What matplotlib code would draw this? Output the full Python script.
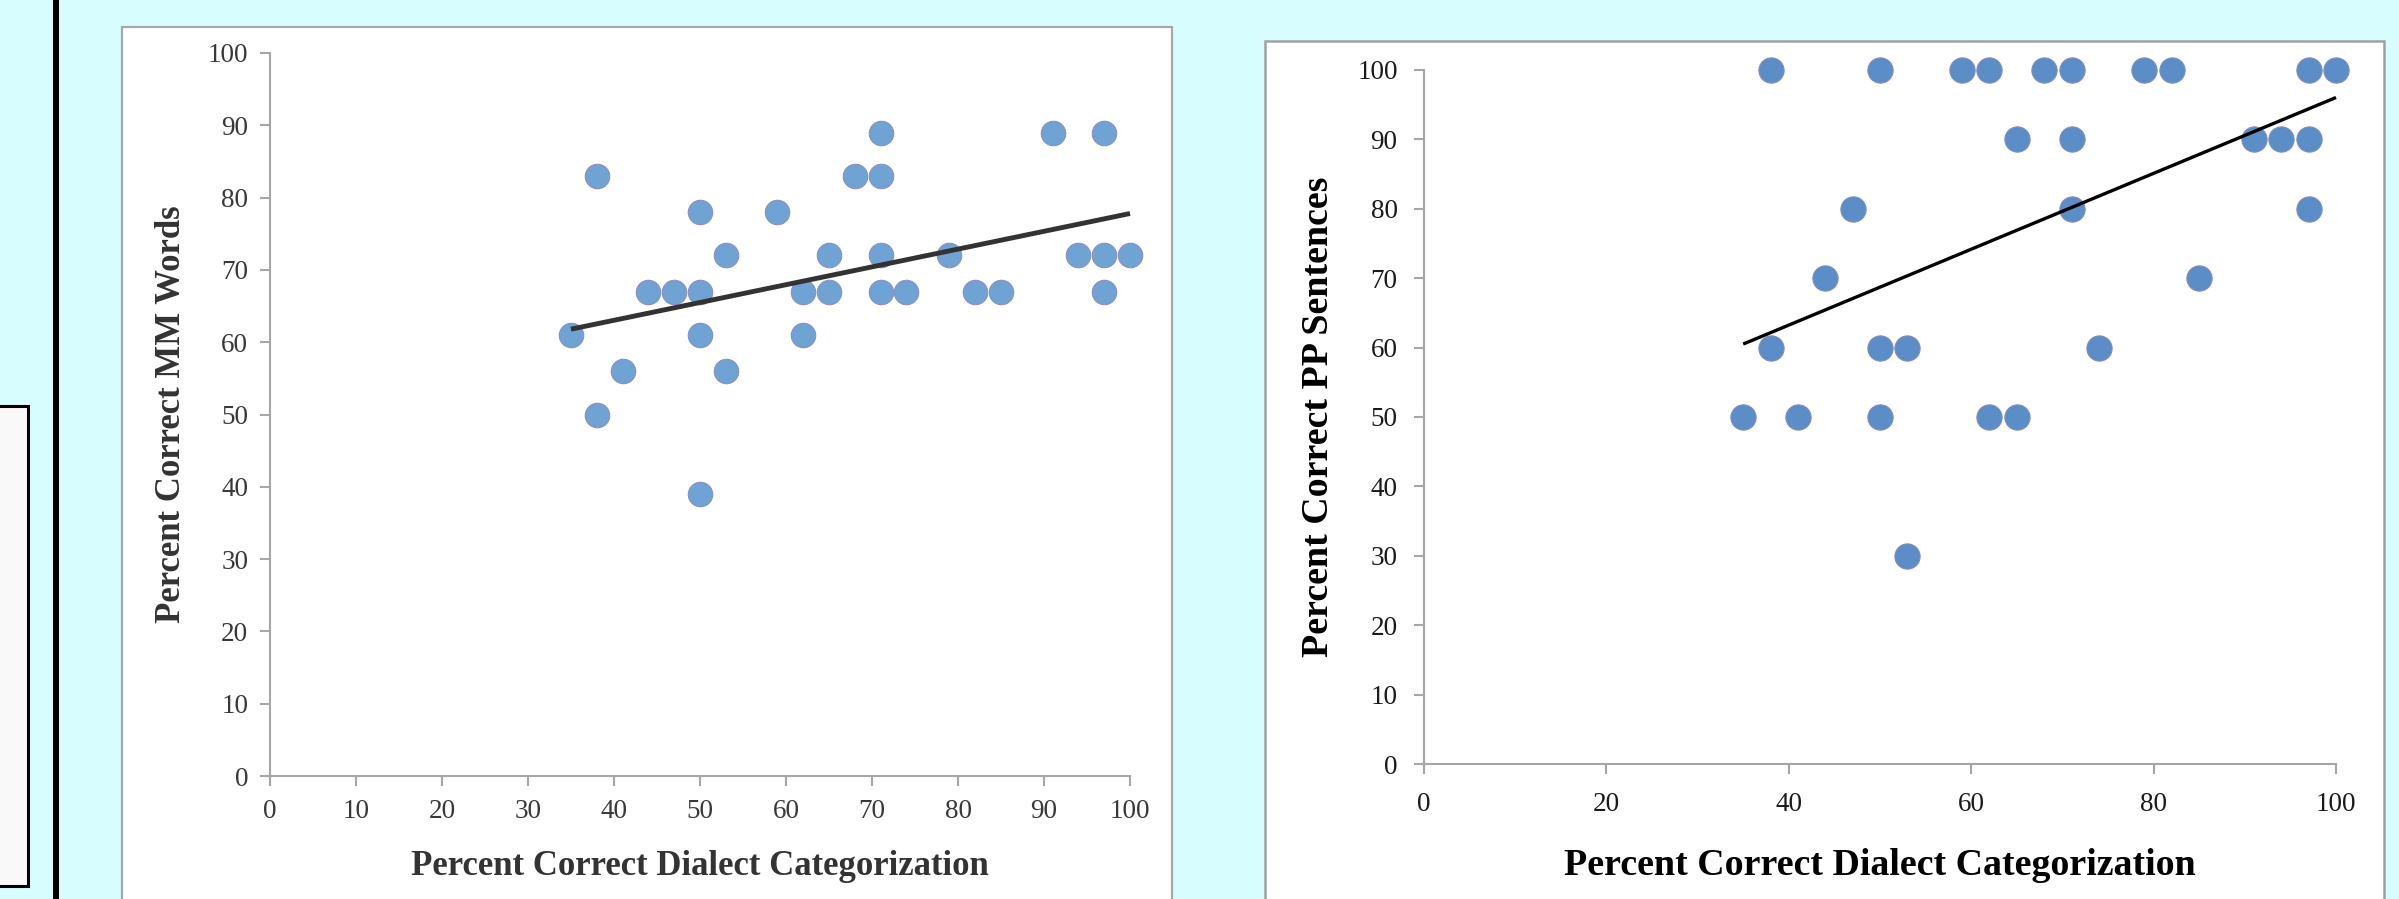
import numpy as np
import matplotlib
matplotlib.use('Agg')
import matplotlib.pyplot as plt
from matplotlib.patches import Rectangle

# left chart: dialect categorization vs MM words
mm_x = [35, 38, 38, 41, 44, 47, 50, 50, 50, 50, 53, 53, 59, 62, 62, 65,
        65, 68, 71, 71, 71, 71, 74, 79, 82, 85, 91, 94, 97, 97, 97, 100]
mm_y = [61, 83, 50, 56, 67, 67, 78, 67, 61, 39, 72, 56, 78, 67, 61, 72,
        67, 83, 89, 83, 72, 67, 67, 72, 67, 67, 89, 72, 89, 72, 67, 72]

# right chart: dialect categorization vs PP sentences
pp_x = [35, 38, 38, 41, 44, 47, 50, 50, 50, 53, 53, 59, 62, 62, 65,
        65, 68, 71, 71, 71, 74, 79, 82, 85, 91, 94, 97, 97, 97, 100]
pp_y = [50, 100, 60, 50, 70, 80, 100, 60, 50, 60, 30, 100, 100, 50, 90,
        50, 100, 100, 90, 80, 60, 100, 100, 70, 90, 90, 100, 90, 80, 100]

# trend lines (start / end of the fitted line)
trend_x = [35, 100]
mm_trend = [61.8, 77.8]
pp_trend = [60.5, 96.0]

mm_ticks = list(range(0, 101, 10))
pp_xticks = list(range(0, 101, 20))
pp_yticks = list(range(0, 101, 10))

x_title = "Percent Correct Dialect Categorization"
mm_title = "Percent Correct MM Words"
pp_title = "Percent Correct PP Sentences"

W, H = 2399, 899
BG = "#D8FDFE"

plt.rcParams['font.family'] = ['Liberation Serif', 'DejaVu Serif']

fig = plt.figure(figsize=(W / 100, H / 100), dpi=100)
fig.patch.set_facecolor(BG)


def frac(x0, y0, x1, y1):
    # pixel box (top-left origin) -> figure fraction [l, b, w, h]
    return [x0 / W, 1 - y1 / H, (x1 - x0) / W, (y1 - y0) / H]


def rect(x0, y0, x1, y1, **kw):
    l, b, w, h = frac(x0, y0, x1, y1)
    fig.patches.append(Rectangle((l, b), w, h, transform=fig.transFigure,
                                 zorder=-5, **kw))


# page decorations (kept behind the axes)
rect(53, -5, 59, H + 5, facecolor="black", edgecolor="none")
rect(-10, 406, 28, 886, facecolor="#F9F9F9", edgecolor="black", linewidth=2.2)
rect(122, 27, 1172, H + 20, facecolor="white", edgecolor="#A8A8A8", linewidth=1.6)
rect(1265, 41, 2384, H + 20, facecolor="white", edgecolor="#A0A0A0", linewidth=1.8)


def draw_scatter(ax, xs, ys, trend_y, xticks, yticks, ylabel, dot, dot_edge,
                 dot_s, line_col, line_w, tick_col, label_col, tick_fs,
                 label_fs, xpad, ypad, xlab_y, ylab_x):
    ax.set_facecolor("none")
    ax.scatter(xs, ys, s=dot_s, color=dot, edgecolors=dot_edge, linewidths=0.8,
               zorder=3, clip_on=False)
    ax.plot(trend_x, trend_y, color=line_col, linewidth=line_w,
            zorder=4, solid_capstyle="butt", clip_on=False)

    ax.set_xlim(0, 100)
    ax.set_ylim(0, 100)
    ax.set_xticks(xticks)
    ax.set_yticks(yticks)
    for side in ("top", "right"):
        ax.spines[side].set_visible(False)
    for side in ("left", "bottom"):
        ax.spines[side].set_color("#A6A6A6")
        ax.spines[side].set_linewidth(1.5)
    ax.tick_params(axis="both", direction="out", length=7.5, width=1.5,
                   color="#A6A6A6", labelcolor=tick_col, labelsize=tick_fs)
    ax.tick_params(axis="x", pad=xpad)
    ax.tick_params(axis="y", pad=ypad)

    ax.set_xlabel(x_title, fontsize=label_fs, fontweight="bold", color=label_col)
    ax.set_ylabel(ylabel, fontsize=label_fs, fontweight="bold", color=label_col)
    ax.xaxis.set_label_coords(0.5, xlab_y)
    ax.xaxis.label.set_va("center")
    ax.yaxis.set_label_coords(ylab_x, 0.5)
    ax.yaxis.label.set_va("center")


ax1 = fig.add_axes(frac(270, 53, 1130, 776))
draw_scatter(ax1, mm_x, mm_y, mm_trend, mm_ticks, mm_ticks, mm_title,
             dot="#6EA3D3", dot_edge="#8C8FC4", dot_s=310,
             line_col="#333333", line_w=3.5, tick_col="#383838",
             label_col="#333333", tick_fs=19.5, label_fs=25,
             xpad=9.2, ypad=8.2, xlab_y=-0.125, ylab_x=-0.114)

ax2 = fig.add_axes(frac(1424, 69.7, 2336, 764.3))
draw_scatter(ax2, pp_x, pp_y, pp_trend, pp_xticks, pp_yticks, pp_title,
             dot="#5B8EC6", dot_edge="#7F8CC0", dot_s=330,
             line_col="black", line_w=2.4, tick_col="#1A1A1A",
             label_col="black", tick_fs=19.5, label_fs=27.3,
             xpad=12.5, ypad=11.5, xlab_y=-0.146, ylab_x=-0.116)

fig.savefig("out.png", dpi=100, facecolor=BG)
